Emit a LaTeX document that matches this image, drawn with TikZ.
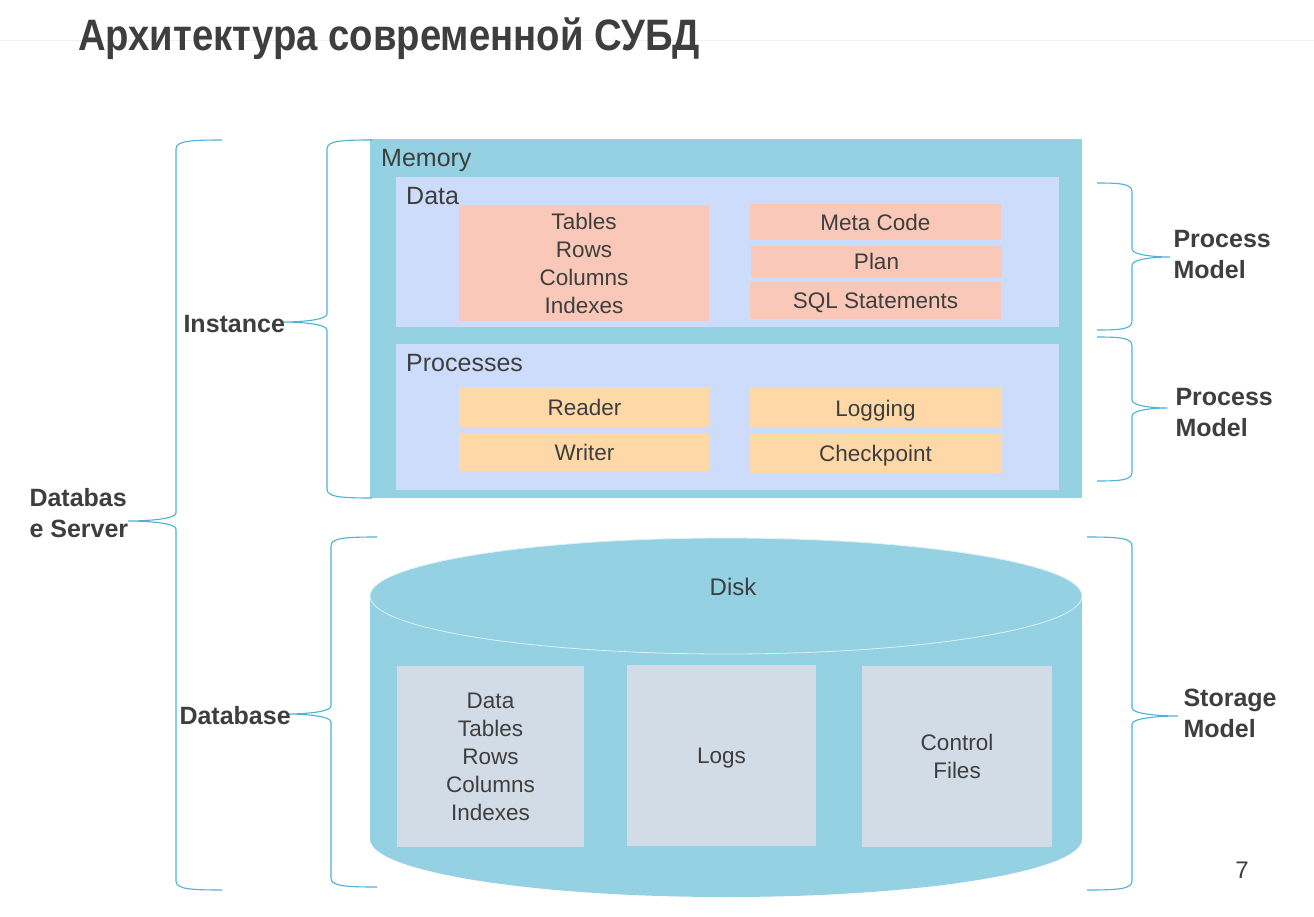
\documentclass[tikz,border=0pt]{standalone}
\usepackage{fontspec}
\setmainfont{Liberation Sans}
\usetikzlibrary{positioning}
\definecolor{memblue}{RGB}{148, 209, 226}
\definecolor{lavender}{RGB}{206, 220, 252}
\definecolor{salmon}{RGB}{250, 200, 185}
\definecolor{peach}{RGB}{254, 216, 166}
\definecolor{diskgray}{RGB}{210, 220, 230}
\definecolor{bracecol}{RGB}{76, 179, 214}
\definecolor{ink}{RGB}{62, 62, 62}

% curly brace: end x, spine x, tip x, top y, bottom y, tip y
\newcommand{\curlbrace}[6]{%
  \draw[bracestroke] (#1, #4) .. controls ({0.3*#1+0.7*#2}, #4) and (#2, #4+1) .. (#2, #4+9)
    -- (#2, #6-8) .. controls (#2, #6-2) and ({0.6*#3+0.4*#2}, #6) .. (#3, #6)
    .. controls ({0.6*#3+0.4*#2}, #6) and (#2, #6+2) .. (#2, #6+8)
    -- (#2, #5-9) .. controls (#2, #5-1) and ({0.3*#1+0.7*#2}, #5) .. (#1, #5);}

\tikzset{
  bracestroke/.style={draw=bracecol, line width=1.1pt},
  itembox/.style={rectangle, inner sep=0pt, text=ink, align=center,
    font=\fontsize{22.5}{28}\selectfont},
  oneline/.style={itembox, text height=16.5pt, text depth=0pt},
  sidelabel/.style={anchor=west, text=ink, align=left,
    font=\fontsize{25}{31}\selectfont\bfseries},
  headlabel/.style={anchor=west, text=ink, inner sep=0pt,
    font=\fontsize{25}{30}\selectfont}
}

\begin{document}
\begin{tikzpicture}[x=1pt, y=-1pt]
  \useasboundingbox[fill=white] (0, 0) rectangle (1314, 917);

  \draw[gray!12, line width=0.8pt] (0, 40) -- (1314, 40);
  \node[anchor=base west, inner sep=0pt, text=ink, xscale=0.87, transform shape,
    font=\fontsize{44}{48}\selectfont\bfseries] (title) at (78, 51)
    {Архитектура современной СУБД};

  % memory
  \node[rectangle, fill=memblue, minimum width=712pt, minimum height=359pt,
    inner sep=0pt] (memory) at (726, 318.5) {};
  \node[headlabel] (memlabel) at (381, 160) {Memory};

  \node[rectangle, fill=lavender, minimum width=663pt, minimum height=150pt,
    inner sep=0pt] (data) at (727.5, 252) {};
  \node[headlabel] (datalabel) at (406, 196) {Data};

  \node[rectangle, fill=lavender, minimum width=663pt, minimum height=146pt,
    inner sep=0pt] (procs) at (727.5, 417) {};
  \node[headlabel] (proclabel) at (406, 363) {Processes};

  \node[itembox, fill=salmon, minimum width=250pt, minimum height=116pt] (tables)
    at (584, 263) {Tables\\Rows\\Columns\\Indexes};
  \node[oneline, fill=salmon, minimum width=251pt, minimum height=36pt] (metacode)
    at (875.5, 222) {Meta Code};
  \node[oneline, fill=salmon, minimum width=251pt, minimum height=31pt] (plan)
    at (876.5, 261.5) {Plan};
  \node[oneline, fill=salmon, minimum width=251pt, minimum height=37pt] (sqlstmt)
    at (875.5, 300.5) {SQL Statements};

  \node[oneline, fill=peach, minimum width=251pt, minimum height=40pt] (reader)
    at (584.5, 407) {Reader};
  \node[oneline, fill=peach, minimum width=251pt, minimum height=38pt] (writer)
    at (584.5, 452) {Writer};
  \node[oneline, fill=peach, minimum width=251pt, minimum height=40pt] (logging)
    at (875.5, 408) {Logging};
  \node[oneline, fill=peach, minimum width=251pt, minimum height=39pt] (checkpt)
    at (875.5, 453.5) {Checkpoint};

  % disk
  \fill[memblue] (726, 839) ellipse [x radius=356pt, y radius=58pt];
  \fill[memblue] (370, 596) rectangle (1082, 839);
  \filldraw[fill=memblue, draw=white!70!memblue, line width=0.8pt]
    (726, 596) ellipse [x radius=356pt, y radius=58pt];
  \node[oneline, font=\fontsize{24}{28}\selectfont] (disk) at (733, 587) {Disk};

  \node[itembox, fill=diskgray, minimum width=187pt, minimum height=181pt] (diskdata)
    at (490.5, 756.5) {Data\\Tables\\Rows\\Columns\\Indexes};
  \node[oneline, fill=diskgray, minimum width=189pt, minimum height=181pt] (logs)
    at (721.5, 755.5) {Logs};
  \node[itembox, fill=diskgray, minimum width=190pt, minimum height=181pt] (ctlfiles)
    at (957, 756.5) {Control\\Files};

  % braces
  \curlbrace{222}{176}{128}{140}{890}{521}
  \curlbrace{372}{327}{283}{140}{498}{322}
  \curlbrace{377}{331}{287}{537}{887}{714}
  \curlbrace{1097}{1132}{1170}{183}{330}{257}
  \curlbrace{1097}{1132}{1167}{337}{481}{408}
  \curlbrace{1087}{1132}{1178}{537}{890}{716}

  \node[sidelabel] (dbserver) at (26, 513) {Databas\\e Server};
  \node[sidelabel] (instance) at (180, 324) {Instance};
  \node[sidelabel] (database) at (176, 716) {Database};
  \node[sidelabel] (procmodel) at (1170, 255) {Process\\Model};
  \node[sidelabel] (procmodelb) at (1172, 413) {Process\\Model};
  \node[sidelabel] (storemodel) at (1180, 713) {Storage\\Model};

  \node[text=ink, font=\fontsize{24}{28}\selectfont] (pagenum) at (1242, 870) {7};
\end{tikzpicture}
\end{document}
